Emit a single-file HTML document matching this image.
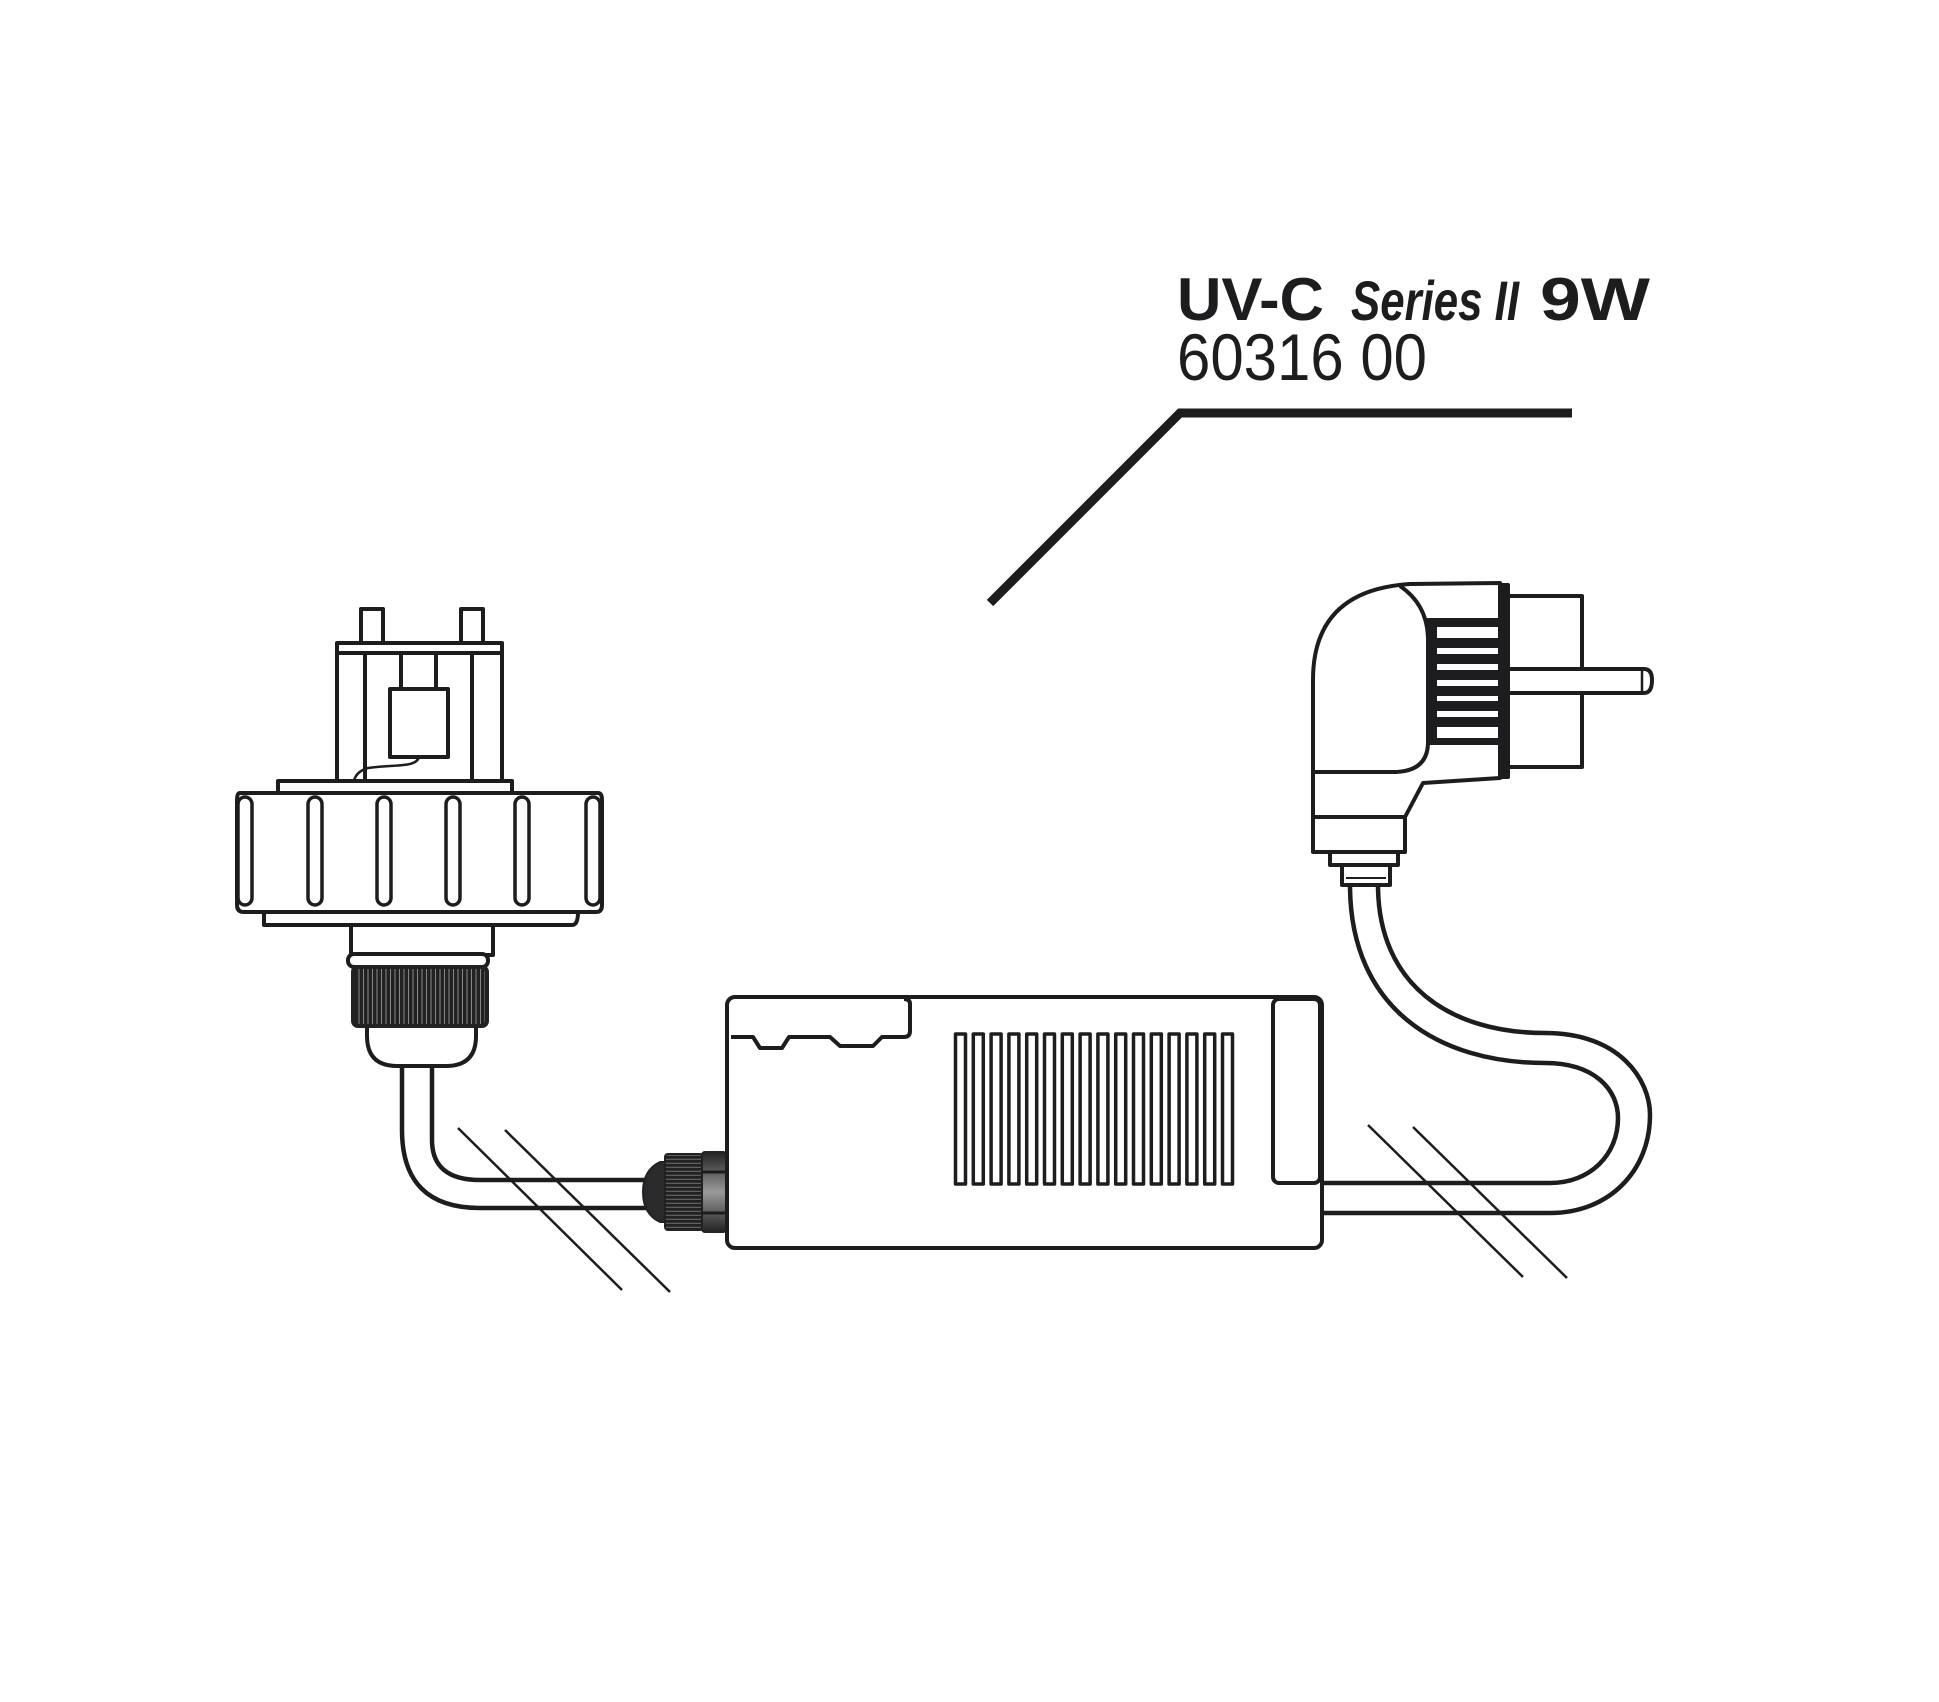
<!DOCTYPE html>
<html><head><meta charset="utf-8"><style>html,body{margin:0;padding:0;background:#fff}svg{display:block}</style></head>
<body>
<svg width="1939" height="1702" viewBox="0 0 1939 1702" xmlns="http://www.w3.org/2000/svg">
<defs>
<pattern id="knurl" width="4.5" height="10" patternUnits="userSpaceOnUse"><rect width="4.5" height="10" fill="#222"/><rect x="3" width="1" height="10" fill="#888"/></pattern>
<pattern id="knurlH" width="10" height="4" patternUnits="userSpaceOnUse"><rect width="10" height="4" fill="#222"/><rect y="2.8" width="10" height="0.9" fill="#777"/></pattern>
<linearGradient id="col" x1="0" y1="0" x2="0" y2="1"><stop offset="0" stop-color="#222"/><stop offset="0.5" stop-color="#999"/><stop offset="1" stop-color="#222"/></linearGradient>
</defs>
<g fill="none" stroke="#1d1d1f" stroke-width="4" stroke-linejoin="round">
<!-- title -->
<text x="1177" y="320" font-family="Liberation Sans, sans-serif" font-weight="bold" font-size="60" fill="#1d1d1f" stroke="none" textLength="147" lengthAdjust="spacingAndGlyphs">UV-C</text>
<text x="1351" y="320" font-family="Liberation Sans, sans-serif" font-style="italic" font-weight="bold" font-size="56" fill="#1d1d1f" stroke="none" textLength="168" lengthAdjust="spacingAndGlyphs">Series II</text>
<text x="1540" y="320" font-family="Liberation Sans, sans-serif" font-weight="bold" font-size="60" fill="#1d1d1f" stroke="none" textLength="110" lengthAdjust="spacingAndGlyphs">9W</text>
<text x="1177" y="380" font-family="Liberation Sans, sans-serif" font-size="66" fill="#1d1d1f" stroke="none" textLength="250" lengthAdjust="spacingAndGlyphs">60316 00</text>
<polyline points="990,603 1180,413 1572,413" stroke-width="9" stroke-linejoin="miter"/>

<!-- lamp socket -->
<rect x="361" y="609" width="22" height="34" fill="#fff"/>
<rect x="461" y="609" width="22" height="34" fill="#fff"/>
<rect x="337" y="643" width="165" height="10" fill="#fff"/>
<rect x="337" y="653" width="165" height="128" fill="#fff"/>
<line x1="365" y1="653" x2="365" y2="781"/>
<line x1="472" y1="653" x2="472" y2="781"/>
<line x1="401" y1="653" x2="401" y2="689"/>
<line x1="436" y1="653" x2="436" y2="689"/>
<rect x="390" y="689" width="58" height="68" fill="#fff"/>
<path d="M419 757 C416 768 395 764 368 768 C358 771 355 776 354 781" stroke-width="2.5"/>
<rect x="278" y="781" width="234" height="14" fill="#fff"/>
<path d="M264 912 L264 925 Q264 925 272 925 L572 925 Q578 925 578 912" fill="#fff"/>
<path d="M240 793 L598 793 Q602 793 602 800 L602 905 Q602 912 596 912 L244 912 Q237 912 237 905 L237 800 Q237 793 240 793 Z" fill="#fff"/>
<g stroke-width="3.5">
<rect x="238" y="797" width="14" height="108" rx="7"/>
<rect x="308" y="797" width="14" height="108" rx="7"/>
<rect x="377" y="797" width="14" height="108" rx="7"/>
<rect x="446" y="797" width="14" height="108" rx="7"/>
<rect x="515" y="797" width="14" height="108" rx="7"/>
<rect x="586" y="797" width="14" height="108" rx="7"/>
</g>
<rect x="351" y="925" width="142" height="30" fill="#fff"/>
<rect x="348" y="954" width="140" height="13" rx="6" fill="#fff"/>
<path d="M367 1025 L367 1036 Q367 1066 397 1066 L446 1066 Q476 1066 476 1036 L476 1025" fill="#fff"/>
<rect x="353" y="967" width="134" height="59" rx="5" fill="url(#knurl)" stroke="#222"/>

<!-- left cable -->
<path d="M402 1066 L402 1130 Q402 1208 480 1208 L646 1208" stroke-width="4.5"/>
<path d="M432 1066 L432 1140 Q432 1180 480 1180 L646 1180" stroke-width="4.5"/>
<line x1="458" y1="1128" x2="622" y2="1290" stroke-width="2.5"/>
<line x1="505" y1="1130" x2="670" y2="1292" stroke-width="2.5"/>

<!-- strain relief -->
<path d="M665 1162 L660 1162 Q643 1170 643 1192 Q643 1214 660 1222 L665 1222 Z" fill="#2a2a2c" stroke="#222" stroke-width="2"/>
<rect x="665" y="1154" width="38" height="76" rx="3" fill="url(#knurlH)" stroke="#222" stroke-width="2"/>
<rect x="702" y="1152" width="24" height="80" rx="3" fill="url(#col)" stroke="#222" stroke-width="2"/>
<line x1="702" y1="1172" x2="726" y2="1172" stroke-width="3"/>
<line x1="702" y1="1213" x2="726" y2="1213" stroke-width="3"/>

<!-- power box -->
<rect x="727" y="997" width="595" height="251" rx="8" fill="#fff" stroke-width="4"/>
<path d="M731 1037 L753 1037 L760 1048 L782 1048 L789 1037 L830 1037 L840 1046 L873 1046 L882 1037 L904 1037 Q910 1037 910 1031 L910 1004 Q910 999 904 999" stroke-width="4"/>
<rect x="1273" y="999" width="47" height="184" rx="6" stroke-width="4"/>
<g stroke-width="3.5">
<rect x="955.5" y="1034" width="10" height="150"/>
<rect x="973.3" y="1034" width="10" height="150"/>
<rect x="991.1" y="1034" width="10" height="150"/>
<rect x="1008.9" y="1034" width="10" height="150"/>
<rect x="1026.7" y="1034" width="10" height="150"/>
<rect x="1044.5" y="1034" width="10" height="150"/>
<rect x="1062.3" y="1034" width="10" height="150"/>
<rect x="1080.1" y="1034" width="10" height="150"/>
<rect x="1097.9" y="1034" width="10" height="150"/>
<rect x="1115.7" y="1034" width="10" height="150"/>
<rect x="1133.5" y="1034" width="10" height="150"/>
<rect x="1151.3" y="1034" width="10" height="150"/>
<rect x="1169.1" y="1034" width="10" height="150"/>
<rect x="1186.9" y="1034" width="10" height="150"/>
<rect x="1204.7" y="1034" width="10" height="150"/>
<rect x="1222.5" y="1034" width="10" height="150"/>
</g>

<!-- right cable -->
<path d="M1378 885 C1378 985 1450 1033 1545 1033 C1620 1033 1650 1080 1650 1115 C1650 1170 1610 1213 1550 1213 L1324 1213" stroke-width="4.5"/>
<path d="M1350 885 C1350 1010 1440 1063 1545 1063 C1595 1063 1618 1090 1618 1118 C1618 1155 1590 1183 1550 1183 L1324 1183" stroke-width="4.5"/>
<line x1="1368" y1="1125" x2="1523" y2="1277" stroke-width="2.5"/>
<line x1="1413" y1="1127" x2="1567" y2="1278" stroke-width="2.5"/>

<!-- plug -->
<rect x="1330" y="852" width="68" height="13" fill="#fff"/>
<rect x="1342" y="865" width="48" height="20" fill="#fff"/>
<line x1="1346" y1="878" x2="1386" y2="878" stroke-width="2"/>
<rect x="1508" y="596" width="74" height="171" fill="#fff"/>
<path d="M1508 669 L1644 669 Q1652 669 1652 680 Q1652 693 1644 693 L1508 693" fill="#fff"/>
<line x1="1642" y1="669" x2="1642" y2="693" stroke-width="2.5"/>
<path d="M1313 852 L1313 680 Q1313 590 1410 584 L1500 583 L1500 778 L1423 783 L1405 817 L1405 852 Z" fill="#fff"/>
<rect x="1500" y="585" width="8" height="192" fill="#1d1d1f"/>
<line x1="1313" y1="817" x2="1405" y2="817"/>
<path d="M1400 586 Q1428 605 1428 640 L1428 742 Q1428 772 1393 772 L1315 772"/>
<rect x="1428" y="620" width="72" height="123" fill="#1d1d1f"/>
<g fill="#fff" stroke="none">
<rect x="1437" y="627" width="61" height="11"/>
<rect x="1437" y="648" width="61" height="6"/>
<rect x="1437" y="664" width="61" height="6"/>
<rect x="1437" y="680" width="61" height="6"/>
<rect x="1437" y="696" width="61" height="5"/>
<rect x="1437" y="711" width="61" height="6"/>
<rect x="1437" y="727" width="61" height="11"/>
</g>
</g>
</svg>
</body></html>
